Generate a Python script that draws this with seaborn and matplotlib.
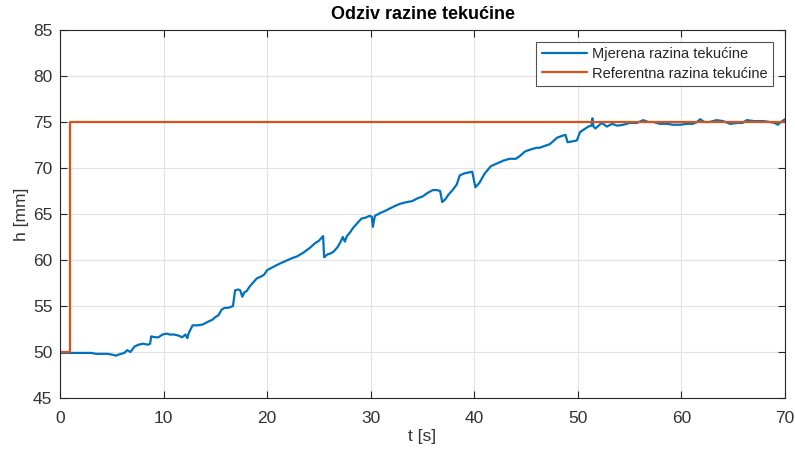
import matplotlib.pyplot as plt
import pandas as pd
import seaborn as sns

t_meas = [0.0, 0.5, 1.0, 1.5, 2.0, 2.5, 3.0, 3.5, 4.0, 4.6,
          5.1, 5.4, 5.6, 5.9, 6.2, 6.5, 6.8, 7.2, 7.6, 8.0,
          8.5, 8.7, 8.8, 9.2, 9.5, 9.9, 10.3, 10.6, 11.0, 11.4,
          11.8, 12.1, 12.3, 12.4, 12.8, 13.3, 13.8, 14.3, 14.7, 15.0,
          15.3, 15.6, 15.9, 16.2, 16.5, 16.7, 16.9, 17.2, 17.4, 17.6,
          17.8, 18.0, 18.3, 18.6, 19.0, 19.4, 19.7, 20.0, 20.5, 21.2,
          21.8, 22.4, 22.9, 23.5, 24.1, 24.6, 25.0, 25.4, 25.5, 25.8,
          26.1, 26.4, 26.8, 27.1, 27.3, 27.5, 27.7, 28.0, 28.3, 28.7,
          29.1, 29.5, 29.9, 30.1, 30.2, 30.4, 30.9, 31.5, 32.2, 32.8,
          33.5, 34.0, 34.5, 35.0, 35.5, 36.0, 36.4, 36.7, 36.9, 37.2,
          37.5, 37.9, 38.3, 38.6, 39.0, 39.4, 39.8, 40.1, 40.5, 41.0,
          41.6, 42.2, 42.8, 43.4, 44.0, 44.4, 44.9, 45.4, 46.0, 46.3,
          46.8, 47.3, 47.7, 48.0, 48.5, 48.8, 49.0, 49.5, 49.9, 50.2,
          50.6, 51.0, 51.3, 51.4, 51.5, 51.7, 52.0, 52.3, 52.8, 53.3,
          53.8, 54.4, 55.0, 55.7, 56.3, 56.8, 57.3, 57.9, 58.6, 59.2,
          59.9, 60.5, 61.1, 61.5, 61.8, 62.2, 62.7, 63.4, 64.0, 64.7,
          65.4, 65.9, 66.3, 67.0, 67.9, 68.5, 69.0, 69.3, 69.6, 70.0]
h_meas = [49.9, 49.9, 49.9, 49.9, 49.9, 49.9, 49.9, 49.8, 49.8, 49.8,
          49.7, 49.6, 49.7, 49.8, 49.9, 50.2, 50.0, 50.6, 50.8, 50.9,
          50.8, 50.9, 51.7, 51.6, 51.6, 51.9, 52.0, 51.9, 51.9, 51.8,
          51.6, 51.9, 51.5, 52.0, 52.9, 52.9, 53.0, 53.3, 53.5, 53.8,
          54.0, 54.6, 54.8, 54.8, 54.9, 55.0, 56.7, 56.8, 56.7, 56.0,
          56.5, 56.6, 57.1, 57.5, 58.0, 58.2, 58.4, 58.9, 59.2, 59.6,
          59.9, 60.2, 60.4, 60.8, 61.3, 61.8, 62.1, 62.6, 60.3, 60.6,
          60.7, 60.9, 61.4, 62.0, 62.5, 62.0, 62.6, 63.0, 63.5, 64.0,
          64.5, 64.6, 64.8, 64.7, 63.6, 64.8, 65.1, 65.4, 65.8, 66.1,
          66.3, 66.4, 66.7, 66.9, 67.3, 67.6, 67.6, 67.5, 66.3, 66.6,
          67.1, 67.6, 68.2, 69.2, 69.4, 69.5, 69.6, 67.9, 68.4, 69.4,
          70.2, 70.5, 70.8, 71.0, 71.0, 71.3, 71.8, 72.0, 72.2, 72.2,
          72.4, 72.6, 73.0, 73.3, 73.5, 73.6, 72.8, 72.9, 73.0, 73.9,
          74.2, 74.5, 74.6, 75.4, 74.5, 74.3, 74.6, 74.9, 74.5, 74.8,
          74.6, 74.7, 74.9, 74.9, 75.2, 75.0, 75.0, 74.8, 74.8, 74.7,
          74.7, 74.8, 74.8, 75.0, 75.3, 75.0, 75.0, 75.2, 75.1, 74.8,
          74.9, 74.9, 75.2, 75.1, 75.1, 75.0, 74.9, 74.7, 75.0, 75.3]

# reference level (step at t = 1 s)
t_ref = [0.0, 1.0, 70.0]
h_ref = [50.0, 75.0, 75.0]

meas = pd.DataFrame({"t": t_meas, "h": h_meas})
ref = pd.DataFrame({"t": t_ref, "h": h_ref})

sns.set_theme(style="whitegrid")
plt.rcParams["font.family"] = ["Liberation Sans", "DejaVu Sans"]

fig = plt.figure(figsize=(7.95, 4.53), dpi=100)
ax = fig.add_axes([0.0755, 0.1214, 0.912, 0.8124])

sns.lineplot(data=meas, x="t", y="h", ax=ax, color="#0072BD", linewidth=1.6,
             estimator=None, sort=False, label="Mjerena razina tekućine")
sns.lineplot(data=ref, x="t", y="h", ax=ax, color="#D95319", linewidth=1.6,
             estimator=None, sort=False, drawstyle="steps-post",
             label="Referentna razina tekućine")

ax.set_xlim(0, 70)
ax.set_ylim(45, 85)
ax.set_xticks(range(0, 71, 10))
ax.set_yticks(range(45, 86, 5))
ax.grid(True, color="#e3e3e3", linewidth=0.8)
for s in ax.spines.values():
    s.set_color("#262626")
    s.set_linewidth(0.8)
ax.tick_params(direction="in", length=5, width=0.8, color="#262626",
               labelcolor="#333333", labelsize=12.5, top=True, right=True,
               bottom=True, left=True)
ax.tick_params(axis="x", pad=9.5)
ax.tick_params(axis="y", pad=5.5)

ax.set_xlabel("t [s]", fontsize=12.5, color="#333333", labelpad=2)
ax.set_ylabel("h [mm]", fontsize=12.5, color="#333333", labelpad=3)
ax.set_title("Odziv razine tekućine", fontsize=13, fontweight="bold",
             color="black", pad=8)

leg = ax.legend(loc="upper right", fontsize=10.5, frameon=True, fancybox=False,
                edgecolor="#262626", borderaxespad=0.8, handlelength=3.1,
                borderpad=0.4, labelspacing=0.35, handletextpad=0.35)
leg.get_frame().set_linewidth(0.8)

fig.savefig("out.png", dpi=100)
